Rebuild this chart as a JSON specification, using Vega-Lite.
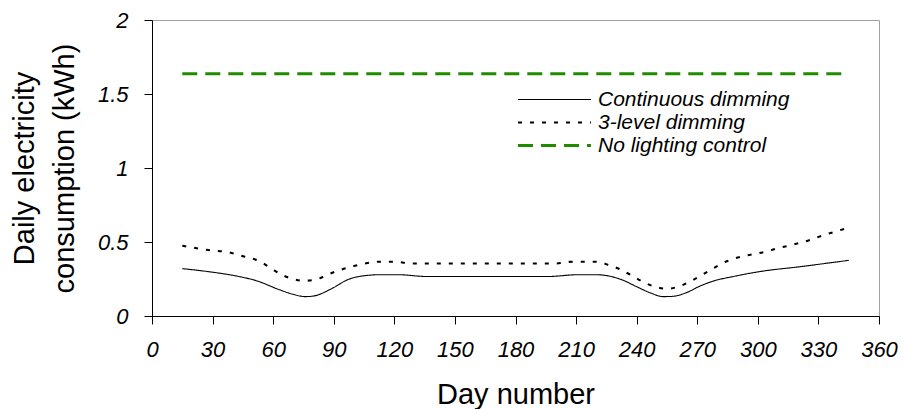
{
  "$schema": "https://vega.github.io/schema/vega-lite/v6.json",
  "autosize": {"type": "none"},
  "width": 727,
  "height": 296,
  "padding": {"left": 152, "top": 20, "right": 25, "bottom": 93},
  "background": "white",
  "config": {
    "font": "Liberation Sans",
    "view": {"stroke": "#a0a0a0", "strokeWidth": 1},
    "axis": {
      "grid": false,
      "domainColor": "black",
      "tickColor": "black",
      "tickSize": 8,
      "labelFlush": false,
      "labelFont": "Liberation Sans",
      "labelFontStyle": "italic",
      "labelFontSize": 22,
      "labelColor": "black",
      "titleFont": "Liberation Sans",
      "titleFontWeight": "normal",
      "titleFontSize": 29,
      "titleColor": "black"
    },
    "legend": {
      "title": null,
      "orient": "none",
      "legendX": 392,
      "legendY": 69,
      "padding": 0,
      "symbolType": "M-5,0H5",
      "symbolSize": 213,
      "labelFont": "Liberation Sans",
      "labelFontStyle": "italic",
      "labelFontSize": 21,
      "labelColor": "black",
      "labelOffset": 33,
      "rowPadding": 1,
      "labelLimit": 400
    }
  },
  "data": {
    "values": [
      {"series": "Continuous dimming", "day": 15, "kwh": 0.32},
      {"series": "Continuous dimming", "day": 30, "kwh": 0.296},
      {"series": "Continuous dimming", "day": 43, "kwh": 0.267},
      {"series": "Continuous dimming", "day": 52, "kwh": 0.237},
      {"series": "Continuous dimming", "day": 63, "kwh": 0.178},
      {"series": "Continuous dimming", "day": 70, "kwh": 0.146},
      {"series": "Continuous dimming", "day": 76, "kwh": 0.131},
      {"series": "Continuous dimming", "day": 80, "kwh": 0.135},
      {"series": "Continuous dimming", "day": 89, "kwh": 0.185},
      {"series": "Continuous dimming", "day": 97, "kwh": 0.246},
      {"series": "Continuous dimming", "day": 104, "kwh": 0.27},
      {"series": "Continuous dimming", "day": 113, "kwh": 0.279},
      {"series": "Continuous dimming", "day": 122, "kwh": 0.279},
      {"series": "Continuous dimming", "day": 136, "kwh": 0.267},
      {"series": "Continuous dimming", "day": 166, "kwh": 0.267},
      {"series": "Continuous dimming", "day": 196, "kwh": 0.267},
      {"series": "Continuous dimming", "day": 211, "kwh": 0.279},
      {"series": "Continuous dimming", "day": 220, "kwh": 0.279},
      {"series": "Continuous dimming", "day": 227, "kwh": 0.268},
      {"series": "Continuous dimming", "day": 233, "kwh": 0.243},
      {"series": "Continuous dimming", "day": 240, "kwh": 0.198},
      {"series": "Continuous dimming", "day": 247, "kwh": 0.155},
      {"series": "Continuous dimming", "day": 253, "kwh": 0.131},
      {"series": "Continuous dimming", "day": 258, "kwh": 0.133},
      {"series": "Continuous dimming", "day": 265, "kwh": 0.16},
      {"series": "Continuous dimming", "day": 271, "kwh": 0.2},
      {"series": "Continuous dimming", "day": 278, "kwh": 0.236},
      {"series": "Continuous dimming", "day": 289, "kwh": 0.27},
      {"series": "Continuous dimming", "day": 300, "kwh": 0.298},
      {"series": "Continuous dimming", "day": 322, "kwh": 0.335},
      {"series": "Continuous dimming", "day": 345, "kwh": 0.376},
      {"series": "3-level dimming", "day": 15, "kwh": 0.475},
      {"series": "3-level dimming", "day": 27, "kwh": 0.447},
      {"series": "3-level dimming", "day": 38, "kwh": 0.43},
      {"series": "3-level dimming", "day": 46, "kwh": 0.4},
      {"series": "3-level dimming", "day": 53, "kwh": 0.372},
      {"series": "3-level dimming", "day": 59, "kwh": 0.322},
      {"series": "3-level dimming", "day": 64, "kwh": 0.28},
      {"series": "3-level dimming", "day": 70, "kwh": 0.25},
      {"series": "3-level dimming", "day": 75, "kwh": 0.238},
      {"series": "3-level dimming", "day": 82, "kwh": 0.25},
      {"series": "3-level dimming", "day": 87, "kwh": 0.28},
      {"series": "3-level dimming", "day": 93, "kwh": 0.31},
      {"series": "3-level dimming", "day": 100, "kwh": 0.338},
      {"series": "3-level dimming", "day": 106, "kwh": 0.356},
      {"series": "3-level dimming", "day": 113, "kwh": 0.367},
      {"series": "3-level dimming", "day": 120, "kwh": 0.367},
      {"series": "3-level dimming", "day": 128, "kwh": 0.355},
      {"series": "3-level dimming", "day": 165, "kwh": 0.355},
      {"series": "3-level dimming", "day": 200, "kwh": 0.355},
      {"series": "3-level dimming", "day": 208, "kwh": 0.367},
      {"series": "3-level dimming", "day": 220, "kwh": 0.367},
      {"series": "3-level dimming", "day": 226, "kwh": 0.345},
      {"series": "3-level dimming", "day": 232, "kwh": 0.315},
      {"series": "3-level dimming", "day": 238, "kwh": 0.27},
      {"series": "3-level dimming", "day": 244, "kwh": 0.225},
      {"series": "3-level dimming", "day": 249, "kwh": 0.198},
      {"series": "3-level dimming", "day": 255, "kwh": 0.184},
      {"series": "3-level dimming", "day": 261, "kwh": 0.2},
      {"series": "3-level dimming", "day": 266, "kwh": 0.23},
      {"series": "3-level dimming", "day": 271, "kwh": 0.266},
      {"series": "3-level dimming", "day": 277, "kwh": 0.315},
      {"series": "3-level dimming", "day": 285, "kwh": 0.372},
      {"series": "3-level dimming", "day": 293, "kwh": 0.405},
      {"series": "3-level dimming", "day": 300, "kwh": 0.423},
      {"series": "3-level dimming", "day": 311, "kwh": 0.461},
      {"series": "3-level dimming", "day": 323, "kwh": 0.502},
      {"series": "3-level dimming", "day": 334, "kwh": 0.552},
      {"series": "3-level dimming", "day": 345, "kwh": 0.597},
      {"series": "No lighting control", "day": 15, "kwh": 1.636},
      {"series": "No lighting control", "day": 345, "kwh": 1.636}
    ]
  },
  "mark": {"type": "line", "interpolate": "monotone", "strokeCap": "butt"},
  "encoding": {
    "x": {
      "field": "day",
      "type": "quantitative",
      "scale": {"domain": [0, 360], "nice": false, "zero": false},
      "axis": {
        "values": [0, 30, 60, 90, 120, 150, 180, 210, 240, 270, 300, 330, 360],
        "title": "Day number",
        "labelPadding": 15,
        "titleBaseline": "alphabetic",
        "titleY": 87
      }
    },
    "y": {
      "field": "kwh",
      "type": "quantitative",
      "scale": {"domain": [0, 2], "nice": false},
      "axis": {
        "values": [0, 0.5, 1, 1.5, 2],
        "labelExpr": "toString(datum.value)",
        "labelPadding": 16,
        "title": ["Daily electricity", "consumption (kWh)"],
        "titleAngle": -90,
        "titleAlign": "center",
        "titleBaseline": "alphabetic",
        "titleX": -119,
        "titleY": 148,
        "titleLineHeight": 40
      }
    },
    "color": {
      "field": "series",
      "type": "nominal",
      "scale": {
        "domain": ["Continuous dimming", "3-level dimming", "No lighting control"],
        "range": ["#000000", "#000000", "#1f8c00"]
      }
    },
    "strokeDash": {
      "field": "series",
      "type": "nominal",
      "scale": {
        "domain": ["Continuous dimming", "3-level dimming", "No lighting control"],
        "range": [[1, 0], [4, 8], [15, 8]]
      }
    },
    "strokeWidth": {
      "field": "series",
      "type": "nominal",
      "scale": {
        "domain": ["Continuous dimming", "3-level dimming", "No lighting control"],
        "range": [1.1, 3, 2.5]
      }
    }
  }
}
